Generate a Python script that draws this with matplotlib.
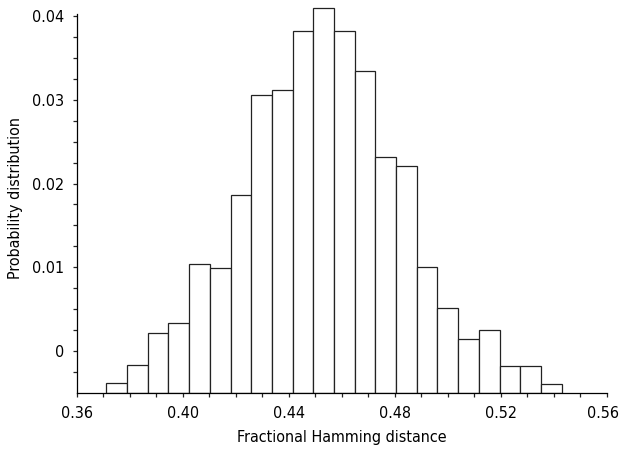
import matplotlib
matplotlib.use("Agg")
import matplotlib.pyplot as plt
import matplotlib.transforms as mtransforms
import numpy as np

# Histogram of fractional Hamming distances, bins one bit wide (1/128)
bin_index = list(range(48, 70))
prob = [-0.00385, -0.00163, 0.00218, 0.0033, 0.01044, 0.00992, 0.01865,
        0.0306, 0.0312, 0.03825, 0.0410, 0.03825, 0.03345, 0.0232,
        0.0221, 0.01008, 0.00516, 0.00139, 0.0025, -0.00182, -0.00182,
        -0.00397]
baseline = -0.005

xticks = [0.36, 0.40, 0.44, 0.48, 0.52, 0.56]
xtick_labels = ["0.36", "0.40", "0.44", "0.48", "0.52", "0.56"]
yticks = [0.0, 0.01, 0.02, 0.03, 0.04]
ytick_labels = ["0", "0.01", "0.02", "0.03", "0.04"]

plt.rcParams['font.family'] = 'DejaVu Sans'
plt.rcParams['font.stretch'] = 'condensed'

fig = plt.figure(figsize=(6.21, 4.49), dpi=100)
ax = fig.add_axes([0.124, 0.1247, 0.853, 0.8677])

left_edges = (np.array(bin_index) - 0.5) / 128
heights = np.array(prob) - baseline
ax.bar(left_edges, heights, width=1 / 128, bottom=baseline, align='edge',
       facecolor='white', edgecolor='#222222', linewidth=0.9)

ax.set_xlim(0.36, 0.56)
ax.set_ylim(baseline, 0.0415)

for side in ['top', 'right']:
    ax.spines[side].set_visible(False)
ax.spines['left'].set_bounds(baseline, 0.0402)
ax.spines['left'].set_linewidth(0.9)
ax.spines['bottom'].set_linewidth(0.9)

ax.set_xticks(xticks)
ax.set_xticklabels(xtick_labels, fontsize=11.5)
ax.set_xticks(np.arange(0.37, 0.56, 0.01), minor=True)
ax.set_yticks(yticks)
ax.set_yticklabels(ytick_labels, fontsize=11.5)
ax.set_yticks(np.arange(-0.0025, 0.0401, 0.0025), minor=True)

ax.tick_params(axis='both', which='both', direction='out', length=3,
               width=0.9, color='#222222')
ax.tick_params(axis='x', which='major', pad=6)
ax.tick_params(axis='y', which='major', pad=6)

# nudge the last x label inward so it stays on the canvas
last = ax.get_xticklabels()[-1]
last.set_transform(last.get_transform() +
                   mtransforms.ScaledTranslation(-4 / 100, 0, fig.dpi_scale_trans))

ax.set_xlabel('Fractional Hamming distance', fontsize=11.5, labelpad=7)
ax.set_ylabel('Probability distribution', fontsize=11.5, labelpad=7)

fig.savefig('out.png', dpi=100)
